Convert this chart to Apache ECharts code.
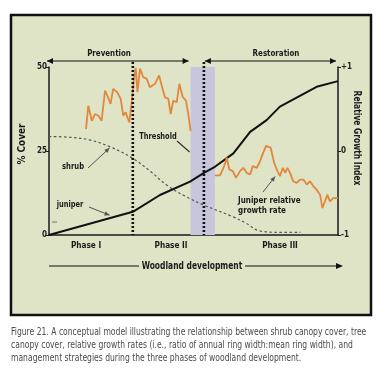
<!DOCTYPE html>
<html><head><meta charset="utf-8">
<script src="https://cdn.jsdelivr.net/npm/echarts@6/dist/echarts.min.js"></script>
<style>html,body{margin:0;padding:0;background:#fff}#c{width:383px;height:381px}</style>
</head><body><div id="c"></div>
<script>
// ---- data (x = woodland development, 0-100) ----
const juniper = [[0,0],[29,6.9],[38.4,11.9],[48.8,15.9],[53.6,18.5],[57.4,20.3],[63.8,24.3],[69.6,30.7],[75.3,34.2],[79.9,38.2],[92.6,44.1],[100,45.8]];
const shrub = [[0,29.3],[7,29.1],[14,28.3],[21,26.3],[29,22.8],[35,19],[40.7,14.9],[47,11.6],[53.6,8.9],[63.7,5.4],[68,3.6],[73,1.2],[80,0.8],[87,0.8]];
const growth1 = [[12.8,0.26],[13.6,0.54],[14.8,0.36],[15.9,0.44],[17.1,0.42],[18.2,0.36],[19.4,0.72],[20.2,0.66],[21.3,0.56],[22.2,0.74],[23.6,0.70],[24.8,0.62],[25.7,0.42],[26.5,0.46],[27.8,0.34],[28.6,0.58],[29.4,0.86],[30.0,0.99],[30.6,0.70],[31.5,0.98],[32.6,0.88],[33.8,0.86],[34.9,0.76],[36.7,0.80],[38.1,0.90],[39.0,0.78],[40.1,0.64],[41.3,0.62],[42.1,0.44],[43.0,0.60],[44.2,0.58],[45.1,0.80],[46.3,0.64],[47.4,0.60],[48.2,0.44],[49.0,0.24]];
const growth2 = [[57.4,-0.29],[59.2,-0.29],[60.6,-0.18],[61.5,-0.08],[62.4,-0.22],[63.6,-0.24],[64.7,-0.32],[66.1,-0.24],[67.2,-0.20],[68.4,-0.26],[69.6,-0.28],[70.5,-0.18],[71.9,-0.20],[72.8,-0.14],[73.9,-0.04],[75.1,0.06],[76.7,0.04],[77.9,-0.14],[78.8,-0.22],[79.9,-0.30],[80.9,-0.20],[81.7,-0.26],[82.5,-0.20],[83.4,-0.26],[84.5,-0.36],[85.7,-0.38],[86.9,-0.34],[88.0,-0.34],[89.2,-0.40],[90.3,-0.36],[91.5,-0.42],[92.6,-0.46],[93.8,-0.52],[94.6,-0.68],[95.5,-0.60],[96.3,-0.52],[97.2,-0.60],[98.4,-0.56],[100,-0.56]];
const phaseBounds = [29, 53.6];      // dotted phase boundaries
const thresholdBand = [49, 57.4];    // shaded threshold band
const coverTicks = ['0','25','50'];
const growthTicks = {'-1':'-1','0':'0','1':'+1'};
const phaseLabels = ['Phase I','Phase II','Phase III'];
const captionLines = [
 'Figure 21. A conceptual model illustrating the relationship between shrub canopy cover, tree',
 'canopy cover, relative growth rates (i.e., ratio of annual ring width:mean ring width), and',
 'management strategies during the three phases of woodland development.'
];

const FONT = "'Liberation Sans Narrow','DejaVu Sans Condensed',sans-serif";
const chart = echarts.init(document.getElementById('c'), null, {renderer:'canvas'});
const lineStyleAxis = {color:'#1a1a1a', width:1.5};
chart.setOption({
  backgroundColor:'#ffffff',
  animation:false,
  grid:{left:49, top:67, width:289, height:168, containLabel:false},
  xAxis:{type:'value', min:0, max:100, axisLine:{lineStyle:lineStyleAxis}, axisTick:{show:false}, axisLabel:{show:false}, splitLine:{show:false}},
  yAxis:[
    {type:'value', min:0, max:50, interval:25, axisLine:{show:true, lineStyle:lineStyleAxis}, axisTick:{show:true, length:4, lineStyle:{color:'#1a1a1a'}},
     axisLabel:{margin:2, fontFamily:FONT, fontWeight:'bold', fontSize:8, color:'#222', formatter:v=>coverTicks[v/25]}, splitLine:{show:false}},
    {type:'value', min:-1, max:1, interval:1, position:'right', axisLine:{show:true, lineStyle:lineStyleAxis}, axisTick:{show:true, length:3, lineStyle:{color:'#1a1a1a'}},
     axisLabel:{margin:3, fontFamily:FONT, fontWeight:'bold', fontSize:8, color:'#222', formatter:v=>growthTicks[String(v)]}, splitLine:{show:false}}
  ],
  series:[
    {type:'line', data:shrub, smooth:0.4, symbol:'none', lineStyle:{color:'#555', width:1.2, type:[2.5,2.5]}, z:3,
     markArea:{silent:true, itemStyle:{color:'#c8c6dc'}, data:[[{xAxis:thresholdBand[0]},{xAxis:thresholdBand[1]}]]}},
    {type:'line', data:juniper, symbol:'none', lineStyle:{color:'#111', width:2}, z:4},
    {type:'line', yAxisIndex:1, data:growth1, symbol:'none', lineStyle:{color:'#e2873c', width:1.8}, z:4},
    {type:'line', yAxisIndex:1, data:growth2, symbol:'none', lineStyle:{color:'#e2873c', width:1.8}, z:4}
  ]
});

function px(x,y,axis){ return chart.convertToPixel({xAxisIndex:0, yAxisIndex:axis||0},[x,y]); }
function head(x1,y1,x2,y2,len,w,color){
  const a=Math.atan2(y2-y1,x2-x1), c=Math.cos(a), s=Math.sin(a);
  const bx=x2-len*c, by=y2-len*s;
  return {type:'polygon', z:20, shape:{points:[[x2,y2],[bx-w*s,by+w*c],[bx+w*s,by-w*c]]}, style:{fill:color}};
}
function arrow(x1,y1,x2,y2,color,width,len,w){
  return [{type:'line', z:20, shape:{x1,y1,x2,y2}, style:{stroke:color, lineWidth:width}}, head(x1,y1,x2,y2,len,w,color)];
}
const g=[];
// frame
g.push({type:'rect', z:-10, shape:{x:11,y:15,width:360,height:300}, style:{fill:'#dfe4c7', stroke:'#111', lineWidth:2.5}});
// dotted phase boundaries (extend slightly above the plot to the arrows)
const topY = 62, bot = px(0,0)[1];
phaseBounds.forEach(b=>{ const x=px(b,0)[0]; g.push({type:'line', z:15, shape:{x1:x,y1:topY,x2:x,y2:bot}, style:{stroke:'#111', lineWidth:2.6, lineDash:[2,2]}}); });
// management arrows
const yArr=61;
const pL=px(0,0)[0]-2, pR=px(thresholdBand[0],0)[0]-2, rL=px(phaseBounds[1],0)[0]+1, rR=px(100,0)[0]-2;
g.push({type:'line', z:20, shape:{x1:pL,y1:yArr,x2:pR,y2:yArr}, style:{stroke:'#111', lineWidth:1.2}});
g.push(head(pR,yArr,pL,yArr,6,3,'#111')); g.push(head(pL,yArr,pR,yArr,6,3,'#111'));
g.push({type:'line', z:20, shape:{x1:rL,y1:yArr,x2:rR,y2:yArr}, style:{stroke:'#111', lineWidth:1.2}});
g.push(head(rR,yArr,rL,yArr,6,3,'#111')); g.push(head(rL,yArr,rR,yArr,6,3,'#111'));
const T=(text,x,y,size,sx,opts)=>({type:'text', z:25, x, y, scaleX:sx, style:Object.assign({text, fill:'#1a1a1a', font:`bold ${size}px ${FONT}`, align:'center', verticalAlign:'middle'}, opts||{})});
g.push(T('Prevention', 109, 54, 9.5, 0.83));
g.push(T('Restoration', 276, 54, 9.5, 0.83));
// phase labels
g.push(T(phaseLabels[0], 86, 246, 9.5, 0.86));
g.push(T(phaseLabels[1], 171, 246, 9.5, 0.86));
g.push(T(phaseLabels[2], 280, 246, 9.5, 0.86));
// woodland development arrow
g.push({type:'line', z:20, shape:{x1:49,y1:266,x2:139,y2:266}, style:{stroke:'#111', lineWidth:1.2}});
g.push({type:'line', z:20, shape:{x1:245,y1:266,x2:338,y2:266}, style:{stroke:'#111', lineWidth:1.2}});
g.push(head(330,266,343,266,7,3,'#111'));
g.push(T('Woodland development', 192, 266, 10.5, 0.8));
// axis titles
g.push(Object.assign(T('% Cover', 22, 144, 11, 0.9), {rotation:Math.PI/2}));
g.push(Object.assign(T('Relative Growth Index', 357, 138, 10.5, 0.8), {rotation:-Math.PI/2}));
// annotations
g.push(T('shrub', 73, 167, 9.5, 0.8));
const sh=px(21.3,26.2); g.push(...arrow(88,168,sh[0]-1,sh[1]+1,'#555',1,5,2.2));
g.push(T('juniper', 70, 205, 9.5, 0.78));
const ju=px(21.3,5.6); g.push(...arrow(89,207,ju[0]-1,ju[1]-1,'#555',1,5,2.2));
g.push(T('Threshold', 158, 137, 9.5, 0.78));
const th=px(thresholdBand[0],0); g.push({type:'line', z:20, shape:{x1:177,y1:141,x2:th[0]-1,y2:152}, style:{stroke:'#333', lineWidth:1.2}});
g.push(T('Juniper relative', 238, 201, 9.5, 0.84, {align:'left'}));
g.push(T('growth rate', 238, 211, 9.5, 0.84, {align:'left'}));
const gr=px(78.6,-0.28,1); g.push(...arrow(263,192,gr[0]-1,gr[1]+2,'#555',1,5,2.2));
// small tick mark inside left axis
g.push({type:'line', z:20, shape:{x1:52,y1:222,x2:57,y2:222}, style:{stroke:'#777', lineWidth:1}});
// caption
captionLines.forEach((l,i)=>g.push({type:'text', z:25, x:11, y:332+i*13.3, scaleX:0.885, style:{text:l, fill:'#4a4a4a', font:`9.6px ${FONT}`, align:'left', verticalAlign:'middle'}}));
chart.setOption({graphic:{elements:g}});
</script></body></html>
